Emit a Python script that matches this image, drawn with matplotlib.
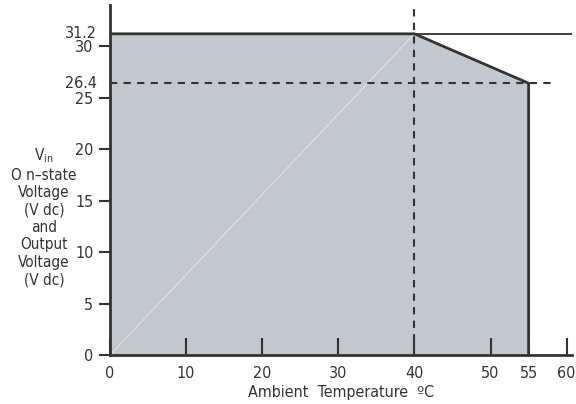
import matplotlib
matplotlib.use("Agg")
import matplotlib.pyplot as plt

plt.rcParams['font.family'] = ['DejaVu Sans']
plt.rcParams['font.stretch'] = 'condensed'

# derating curve
temp = [0, 0, 40, 55, 55]
volt = [0, 31.2, 31.2, 26.4, 0]
x_ticks = [0, 10, 20, 30, 40, 50, 55, 60]
y_ticks = [0, 5, 10, 15, 20, 25, 30]
y_marks = [26.4, 31.2]
v_max = 31.2
v_knee = 26.4
t_knee = 40
t_max = 55

ink = '#333333'
fig = plt.figure(figsize=(5.76, 4.04), dpi=100)
ax = fig.add_axes([110 / 576, 49 / 404, 462 / 576, 350 / 404])

ax.fill(temp, volt, color='#c3c8d0', lw=0, zorder=1)
ax.plot(temp[1:], volt[1:], color=ink, lw=2, zorder=3)
ax.plot([0, t_knee], [0, v_max], color='#e8eaee', lw=0.6, zorder=2)
ax.axhline(v_max, color=ink, lw=1.3, zorder=3)
ax.axvline(t_knee, color=ink, lw=1.5, ls=(0, (3.5, 3)), zorder=4)
ax.plot([0, 58], [v_knee, v_knee], color=ink, lw=1.5, ls=(0, (3.5, 3)), zorder=4)

ax.set_xlim(0, 60.7)
ax.set_ylim(0, 34)
for s in ['top', 'right']:
    ax.spines[s].set_visible(False)
for s in ['left', 'bottom']:
    ax.spines[s].set_linewidth(2)
    ax.spines[s].set_color(ink)

ax.set_xticks(x_ticks)
ax.set_xticklabels([str(t) for t in x_ticks])
ax.tick_params(axis='x', direction='in', length=12, width=1.5, color=ink,
               labelsize=11.5, labelcolor=ink, pad=8)
ax.set_yticks(y_ticks)
ax.set_yticklabels([str(t) for t in y_ticks])
ax.tick_params(axis='y', direction='out', length=8, width=1.5, color=ink,
               labelsize=11.5, labelcolor=ink, pad=4)
for m in y_marks:
    ax.text(-1.7, m, str(m), ha='right', va='center', fontsize=11.5, color=ink)

ax.set_xlabel('Ambient  Temperature  ºC', fontsize=11.5, color=ink, labelpad=3)
fig.text(44 / 576, 1 - 217 / 404,
         'V$_{\\mathregular{in}}$\nO n–state\nVoltage\n(V dc)\nand\nOutput\nVoltage\n(V dc)',
         ha='center', va='center', fontsize=11, color=ink, linespacing=1.2)

fig.savefig('out.png', dpi=100)
